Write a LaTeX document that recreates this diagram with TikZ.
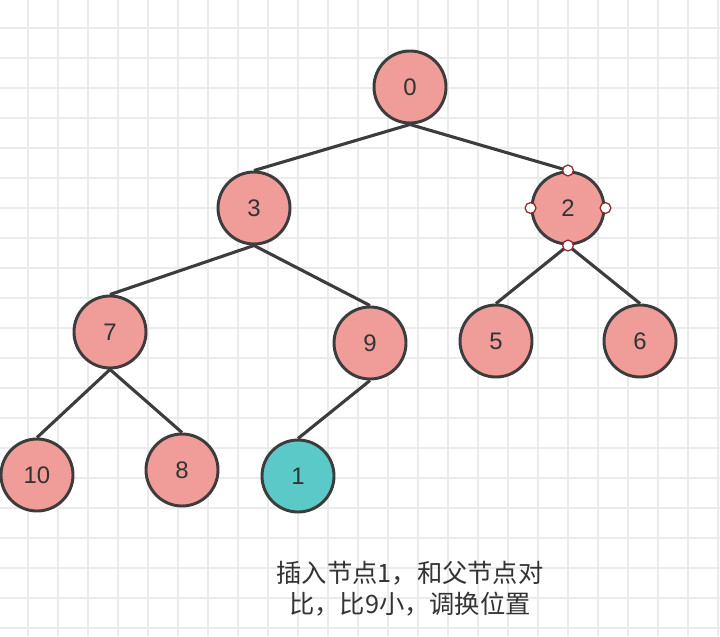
\documentclass[tikz,border=0pt]{standalone}
\usepackage{fontspec}
\setmainfont{Liberation Sans}
\newfontfamily\cjk{Noto Sans CJK SC}
\definecolor{hpfill}{HTML}{F09C99}
\definecolor{hpswap}{HTML}{5BC9C7}
\definecolor{hpline}{HTML}{3C3C3C}
\definecolor{hpgrid}{HTML}{EBEBEB}
\definecolor{hpgrip}{HTML}{8A2C2C}
\definecolor{hptext}{HTML}{333333}
\pgfdeclarelayer{hppaper}
\pgfdeclarelayer{hplinks}
\pgfsetlayers{hppaper,hplinks,main}

\begin{document}
\begin{tikzpicture}[x=0.025cm, y=-0.025cm, font=\fontsize{17}{20}\selectfont,
    gridline/.style={hpgrid, line width=1.1pt},
    heap/.style={circle, draw=hpline, line width=2.1pt, fill=hpfill,
                 minimum size=1.8cm, inner sep=0pt, text=hptext},
    link/.style={hpline, line width=2.2pt},
    grip/.style={circle, draw=hpgrip, fill=white, line width=0.9pt,
                 minimum size=0.27cm, inner sep=0pt}]

\useasboundingbox (0,0) rectangle (720,636);

% --- squared paper ---------------------------------------------------------
\begin{pgfonlayer}{hppaper}
  \fill[white] (0,0) rectangle (720,636);
  \foreach \gx in {28,58,...,718}
    \draw[gridline] (\gx,0) -- (\gx,636);
  \foreach \gy in {28,58,...,628}
    \draw[gridline] (0,\gy) -- (720,\gy);
\end{pgfonlayer}

% --- heap nodes --  key/x/y ------------------------------------------------
\foreach \k/\px/\py in {0/410/87, 3/254/208, 2/568/208, 7/110/332,
    9/370/343, 5/496/341, 6/640/341, 10/37/475, 8/182/470}
  \node[heap, name=n\k] at (\px,\py) {\k};
\node[heap, fill=hpswap, name=n1] at (298,476) {1};

% --- parent/child links, bottom of parent to top of child -------------------
\begin{pgfonlayer}{hplinks}
  \foreach \a/\b in {0/3, 0/2, 3/7, 3/9, 2/5, 2/6, 7/10, 7/8, 9/1}
    \draw[link] (n\a.south) -- (n\b.north);
\end{pgfonlayer}

% selection handles on node 2
\foreach \side in {north, south, east, west}
  \node[grip] at (n2.\side) {};

\node[align=center, text=hptext, font=\cjk\fontsize{18}{22}\selectfont,
      name=caption] at (410,589) {插入节点1，和父节点对\\比，比9小，调换位置};
\end{tikzpicture}
\end{document}
